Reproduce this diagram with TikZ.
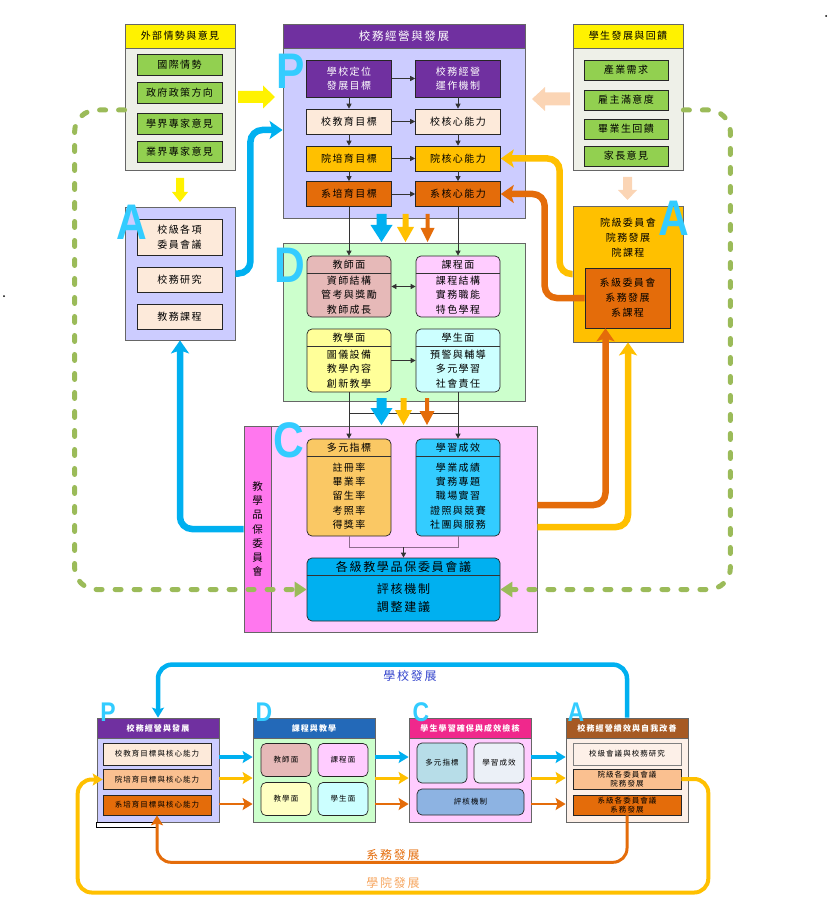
\documentclass[tikz,border=0pt]{standalone}
\usepackage{fontspec}
\setmainfont{Noto Sans CJK TC}[LetterSpace=14]
\newfontfamily\letterfont{Liberation Sans}
\usetikzlibrary{arrows.meta}

\definecolor{lavender}{HTML}{CCCCFF}
\definecolor{purple1}{HTML}{7030A0}
\definecolor{cream}{HTML}{FDEADA}
\definecolor{gold}{HTML}{FFC000}
\definecolor{orange1}{HTML}{E46C0A}
\definecolor{mint}{HTML}{CCFFCC}
\definecolor{itemgreen}{HTML}{92D050}
\definecolor{extgray}{HTML}{EEF0E8}
\definecolor{pink1}{HTML}{FFCCFF}
\definecolor{magenta1}{HTML}{FF77EE}
\definecolor{rose}{HTML}{E6B9B8}
\definecolor{lightyellow}{HTML}{FFFF99}
\definecolor{lightcyan}{HTML}{CCFFFF}
\definecolor{apricot}{HTML}{FAC864}
\definecolor{sky}{HTML}{33CCFF}
\definecolor{blue1}{HTML}{00B0F0}
\definecolor{peach}{HTML}{FBD5B5}
\definecolor{peach2}{HTML}{FAC090}
\definecolor{dashgreen}{HTML}{9BBB59}
\definecolor{letterblue}{HTML}{33CCFF}
\definecolor{navyhead}{HTML}{2369B8}
\definecolor{pinkhead}{HTML}{F0288C}
\definecolor{brownhead}{HTML}{A65A24}
\definecolor{paleblue}{HTML}{B7DDE8}
\definecolor{palegray}{HTML}{EBF0F7}
\definecolor{cornflower}{HTML}{8DB3E2}
\definecolor{lightcream}{HTML}{FDF0E8}
\definecolor{textblue}{HTML}{3344CC}
\definecolor{textpeach}{HTML}{F6A55E}
\definecolor{mauve}{HTML}{8C6C8C}

% fat block arrows
\newcommand\fatdown[7]{\fill[#7] (#1-#4,#2) -- (#1+#4,#2) -- (#1+#4,#3-#6) -- (#1+#5,#3-#6) -- (#1,#3) -- (#1-#5,#3-#6) -- (#1-#4,#3-#6) -- cycle;}
\newcommand\fatright[7]{\fill[#7] (#2,#1-#4) -- (#3-#6,#1-#4) -- (#3-#6,#1-#5) -- (#3,#1) -- (#3-#6,#1+#5) -- (#3-#6,#1+#4) -- (#2,#1+#4) -- cycle;}
\newcommand\fatleft[7]{\fill[#7] (#2,#1-#4) -- (#3+#6,#1-#4) -- (#3+#6,#1-#5) -- (#3,#1) -- (#3+#6,#1+#5) -- (#3+#6,#1+#4) -- (#2,#1+#4) -- cycle;}
% rounded box with a header line: name, x, y, width, height, colour, header, body, font
\newcommand\facebox[9]{%
  \node[face,fill=#6,minimum width=#4pt,minimum height=#5pt] (#1) at (#2,#3) {};
  \draw[link] ([yshift=-18pt]#1.north west) -- ([yshift=-18pt]#1.north east);
  \node[inner sep=0pt,font=#9] (#1h) at ([yshift=-9pt]#1.north) {#7};
  \node[inner sep=0pt,align=center,font=#9] (#1b) at ([yshift={-(9+#5/2)*1pt}]#1.north) {#8};}
% lower cycle: name, x, header colour, body colour, title
\newcommand\stagebox[5]{%
  \node[frame,fill=#4,minimum width=122pt,minimum height=104pt] (#1) at (#2,770) {};
  \node[frame,fill=#3,text=white,minimum width=122pt,minimum height=20pt,font=\fontsize{8}{9}\selectfont\bfseries] (#1h) at (#2,728) {#5};}

\begin{document}
\begin{tikzpicture}[x=1pt,y=-1pt,
    frame/.style={draw=black!60,line width=0.8pt,inner sep=0pt},
    title/.style={frame,text=white,font=\fontsize{11.5}{13}\selectfont},
    cell/.style={draw=black!85,line width=0.6pt,inner sep=0pt,align=center,font=\fontsize{10}{14.5}\selectfont},
    tiny/.style={cell,font=\fontsize{7.5}{10}\selectfont},
    face/.style={draw=black!85,line width=0.7pt,rounded corners=5pt,inner sep=0pt},
    link/.style={draw=black!80,line width=0.7pt},
    tip/.style={-{Triangle[length=5pt,width=5pt]}},
    big/.style={line width=6.5pt,rounded corners=12pt,-{Stealth[length=13pt,width=18pt,inset=3pt]}},
    flow/.style={line width=#1,-{Stealth[length=10pt,width=12pt,inset=2pt]}},
    gdash/.style={draw=dashgreen,line width=5pt,line cap=round,dash pattern=on 6pt off 13pt,rounded corners=22pt,-{Triangle[length=12pt,width=15pt]}},
    letter/.style={text=letterblue,inner sep=0pt,xscale=0.85,font=\letterfont\bfseries\fontsize{50}{50}\selectfont},
    sletter/.style={letter,font=\letterfont\bfseries\fontsize{27}{27}\selectfont}]
\useasboundingbox (0,0) rectangle (829,901);
\fill (826,16) circle (1);
\fill (4,296) circle (1);

% outside opinions
\node[frame,fill=extgray,minimum width=110pt,minimum height=146pt] (extL) at (180,97) {};
\node[title,fill=yellow,text=black,minimum width=110pt,minimum height=24pt,font=\fontsize{10}{12}\selectfont] (extLh) at (180,36) {外部情勢與意見};
\foreach \y/\t [count=\i] in {65/國際情勢,93/政府政策方向,123.5/學界專家意見,151.5/業界專家意見}
  \node[cell,fill=itemgreen,minimum width=85pt,minimum height=21pt] (extL\i) at (179.5,\y) {\t};

\node[frame,fill=extgray,minimum width=110pt,minimum height=146pt] (extR) at (628,97) {};
\node[title,fill=yellow,text=black,minimum width=110pt,minimum height=24pt,font=\fontsize{10}{12}\selectfont] (extRh) at (628,36) {學生發展與回饋};
\foreach \y/\t [count=\i] in {70/產業需求,100/雇主滿意度,129/畢業生回饋,156/家長意見}
  \node[cell,fill=itemgreen,minimum width=84pt,minimum height=20pt] (extR\i) at (626,\y) {\t};

% P
\node[frame,fill=lavender,minimum width=242pt,minimum height=194pt] (pbox) at (404,121) {};
\node[title,fill=purple1,minimum width=242pt,minimum height=24pt] (ptitle) at (404,36) {校務經營與發展};
\node[cell,fill=purple1,text=white,minimum width=85pt,minimum height=37pt] (pl1) at (349,78.5) {學校定位\\發展目標};
\node[cell,fill=purple1,text=white,minimum width=85pt,minimum height=37pt] (pr1) at (458,78.5) {校務經營\\運作機制};
\foreach \y/\c/\a/\b [count=\i from 2] in {121.5/cream/校教育目標/校核心能力,158.5/gold/院培育目標/院核心能力,194/orange1/系培育目標/系核心能力} {
  \node[cell,fill=\c,minimum width=85pt,minimum height=25pt] (pl\i) at (349,\y) {\a};
  \node[cell,fill=\c,minimum width=85pt,minimum height=25pt] (pr\i) at (458,\y) {\b};
}
\foreach \i in {1,...,4}
  \draw[link,tip] (pl\i) -- (pr\i);
\foreach \i/\j in {1/2,2/3,3/4} {
  \draw[link,tip] (pl\i) -- (pl\j);
  \draw[link,tip] (pr\i) -- (pr\j);
}

% A (school level, college level)
\node[frame,fill=lavender,minimum width=110pt,minimum height=133pt] (abox) at (180,273.5) {};
\node[cell,fill=cream,minimum width=85pt,minimum height=36pt] (a1) at (179.5,237) {校級各項\\委員會議};
\node[cell,fill=cream,minimum width=85pt,minimum height=25pt] (a2) at (179.5,279.5) {校務研究};
\node[cell,fill=cream,minimum width=85pt,minimum height=25pt] (a3) at (179.5,316.5) {教務課程};

\node[frame,fill=gold,minimum width=110pt,minimum height=136pt] (rbox) at (628,274) {};
\node[align=center,inner sep=0pt,font=\fontsize{10}{15}\selectfont] (rtext) at (628,238) {院級委員會\\院務發展\\院課程};
\node[cell,fill=orange1,minimum width=85pt,minimum height=60pt,font=\fontsize{10}{15}\selectfont] (rdept) at (627.5,298) {系級委員會\\系務發展\\系課程};

% D
\node[frame,fill=mint,minimum width=242pt,minimum height=158pt] (dbox) at (404,322) {};
\facebox{fteach}{349}{286.5}{84}{61}{rose}{教師面}{資師結構\\管考與獎勵\\教師成長}{\fontsize{10}{14.5}\selectfont}
\facebox{fcourse}{458}{286.5}{84}{61}{pink1}{課程面}{課程結構\\實務職能\\特色學程}{\fontsize{10}{14.5}\selectfont}
\facebox{fpedag}{349}{360.5}{84}{63}{lightyellow}{教學面}{圖儀設備\\教學內容\\創新教學}{\fontsize{10}{14.5}\selectfont}
\facebox{fstud}{458}{360.5}{84}{63}{lightcyan}{學生面}{預警與輔導\\多元學習\\社會責任}{\fontsize{10}{14.5}\selectfont}

% C
\node[frame,fill=pink1,minimum width=293pt,minimum height=206pt] (cbox) at (390.5,529) {};
\node[frame,fill=magenta1,minimum width=27pt,minimum height=206pt,align=center,font=\fontsize{10.5}{14.3}\selectfont] (cstrip) at (257.5,529) {教\\學\\品\\保\\委\\員\\會};
\facebox{findex}{349}{487.5}{84}{97}{apricot}{多元指標}{註冊率\\畢業率\\留生率\\考照率\\得獎率}{\fontsize{10}{14.3}\selectfont}
\facebox{fresult}{458}{487.5}{84}{97}{sky}{學習成效}{學業成績\\實務專題\\職場實習\\證照與競賽\\社團與服務}{\fontsize{10}{14.3}\selectfont}
\facebox{fcomm}{403.5}{589.5}{193}{63}{blue1}{各級教學品保委員會議}{評核機制\\調整建議}{\fontsize{12}{18}\selectfont}

% inner links
\draw[link,tip] (pl4) -- (fteach);
\draw[link,tip] (pr4) -- (fcourse);
\draw[link,{Triangle[length=5pt,width=5pt]}-{Triangle[length=5pt,width=5pt]}] (fteach) -- (fcourse);
\draw[link,tip] (fpedag) -- (fstud);
\draw[link,tip] (fpedag) -- (findex);
\draw[link,tip] (fstud) -- (fresult);
\draw[link] ([yshift=-21pt]fpedag.south) -- ([yshift=-21pt]fstud.south);
\draw[link,draw=mauve] (findex.south) -- ++(0,11) coordinate (cjoin) -| (fresult.south);
\draw[link,tip] (cjoin -| fcomm.north) -- (fcomm.north);

% block arrows
\fatright{97}{238}{275}{6}{11.5}{12}{yellow}
\fatdown{180}{178}{202}{4}{8}{10}{yellow}
\fatleft{99}{570}{532}{6.5}{12}{13}{peach}
\fatdown{627.5}{177}{200}{4.5}{9.5}{10}{peach}
\fatdown{381.5}{214}{242}{5}{11}{17}{blue1}
\fatdown{405.5}{214}{242}{3}{8.5}{15}{gold}
\fatdown{427.5}{214}{242}{2}{7}{14}{orange1}
\fatdown{381.5}{398}{425}{5}{11}{17}{blue1}
\fatdown{403.5}{398}{425}{3}{8.5}{15}{gold}
\fatdown{427}{398}{425}{2}{7.5}{14}{orange1}

% feedback loops
\draw[gdash] ([yshift=-13pt]extL.west) -- ++(-50,0) |- (fcomm.west);
\draw[gdash] ([yshift=-13pt]extR.east) -- ++(47,0) |- (fcomm.east);
\draw[big,blue1] (abox.east) -- ++(15,0) |- ([yshift=-9pt]pbox.west);
\draw[big,blue1] (cbox.west) -| (abox.south);
\draw[big,gold] (rbox.west) -- ++(-13,0) |- (pr3.east);
\draw[big,orange1] (rdept.west) -- ++(-40,0) |- (pr4.east);
\draw[big,orange1] ([yshift=24pt]cbox.east) -| ([xshift=-22pt]rdept.south);
\draw[big,gold] ([yshift=2pt]cbox.east) -| (rbox.south);

\node[letter] (lp) at (291,71) {P};
\node[letter] (ld) at (290,265) {D};
\node[letter] (lc) at (289,440) {C};
\node[letter] (la) at (132,222) {A};
\node[letter] (lr) at (674,218) {A};

% lower PDCA cycle
\stagebox{bP}{158}{purple1}{lavender}{校務經營與發展}
\stagebox{bD}{314}{navyhead}{mint}{課程與教學}
\stagebox{bC}{470}{pinkhead}{pink1}{學生學習確保與成效檢核}
\stagebox{bA}{627}{brownhead}{lightcream}{校務經營績效與自我改善}
\draw[line width=0.7pt,fill=white] (bP.south west) rectangle ++(61,5);

\node[tiny,fill=cream,minimum width=108pt,minimum height=22pt] (bp1) at (157,754) {校教育目標與核心能力};
\node[tiny,fill=peach2,minimum width=108pt,minimum height=20pt] (bp2) at (157,779.5) {院培育目標與核心能力};
\node[tiny,fill=orange1,minimum width=108pt,minimum height=20pt] (bp3) at (157,805) {系培育目標與核心能力};

\node[tiny,face,fill=rose,minimum width=50pt,minimum height=33pt] (bd1) at (286,760) {教師面};
\node[tiny,face,fill=pink1,minimum width=50pt,minimum height=33pt] (bd2) at (343,760) {課程面};
\node[tiny,face,fill=lightyellow!60!white,minimum width=50pt,minimum height=33pt] (bd3) at (286,799) {教學面};
\node[tiny,face,fill=lightcyan,minimum width=50pt,minimum height=33pt] (bd4) at (343,799) {學生面};

\node[tiny,face,fill=paleblue,minimum width=50pt,minimum height=40pt] (bc1) at (442,763) {多元指標};
\node[tiny,face,fill=palegray,minimum width=50pt,minimum height=40pt] (bc2) at (499,763) {學習成效};
\node[tiny,face,fill=cornflower,minimum width=107pt,minimum height=26pt] (bc3) at (470.5,802) {評核機制};

\node[tiny,draw=black!50,fill=lightcream,minimum width=108pt,minimum height=22pt] (ba1) at (627,754) {校級會議與校務研究};
\node[tiny,fill=peach2,minimum width=108pt,minimum height=20pt,font=\fontsize{7.5}{9.5}\selectfont] (ba2) at (627,779) {院級各委員會議\\院務發展};
\node[tiny,fill=orange1,minimum width=108pt,minimum height=20pt,font=\fontsize{7.5}{9.5}\selectfont] (ba3) at (627,805) {系級各委員會議\\系務發展};

\foreach \a/\b in {bP/bD,bD/bC,bC/bA} {
  \draw[flow=4pt,blue1] ([yshift=13pt]\a.east) -- ([yshift=13pt]\b.west);
  \draw[flow=3pt,gold] ([yshift=-8pt]\a.east) -- ([yshift=-8pt]\b.west);
  \draw[flow=2pt,orange1] ([yshift=-34pt]\a.east) -- ([yshift=-34pt]\b.west);
}
\draw[flow=4.5pt,blue1,rounded corners=14pt] (bA.north) -- ++(0,-53) -| (bP.north);
\draw[flow=3pt,orange1,rounded corners=14pt] (ba3.south) -- ++(0,47) -| (bp3.south);
\draw[flow=4pt,gold,rounded corners=14pt] (ba2.east) -- ++(27,0) |- ([xshift=-25pt,yshift=-113pt]bp2.west) |- (bp2.west);
\node[text=textblue,font=\fontsize{12}{14}\selectfont] (tschool) at (410,676) {學校發展};
\node[text=orange1,font=\fontsize{12}{14}\selectfont] (tdept) at (393,855) {系務發展};
\node[text=textpeach,font=\fontsize{12}{14}\selectfont] (tcollege) at (393,883) {學院發展};

\node[sletter] (bl1) at (108,712) {P};
\node[sletter] (bl2) at (264,712) {D};
\node[sletter] (bl3) at (421,712) {C};
\node[sletter] (bl4) at (576,712) {A};
\end{tikzpicture}
\end{document}
